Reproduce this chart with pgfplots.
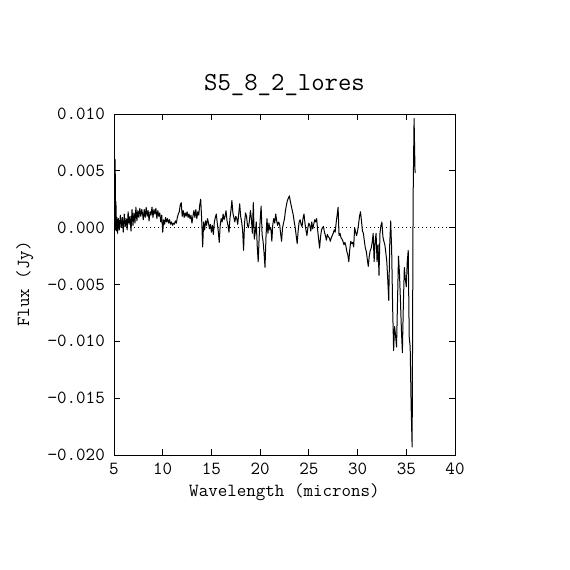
\documentclass[border=0pt]{standalone}
\usepackage{fontspec}
\usepackage{pgfplots}
\usepackage{pgfplotstable}
\pgfplotsset{compat=1.18}
\pgfplotstableread{
w f
5.04 1.0
5.12 6.0
5.16 -0.2
5.20 2.3
5.24 -0.3
5.30 0.9
5.37 -0.5
5.45 0.8
5.55 -0.2
5.65 1.1
5.75 0.0
5.85 0.9
5.95 -0.4
6.05 1.2
6.15 0.1
6.25 0.8
6.35 -0.2
6.45 1.4
6.55 0.3
6.65 1.0
6.75 -0.3
6.85 1.6
6.95 0.2
7.05 1.3
7.15 0.4
7.25 1.8
7.35 0.6
7.45 1.5
7.55 0.9
7.65 1.7
7.75 1.0
7.85 1.6
7.95 1.1
8.0 0.7
8.1 1.6
8.2 0.9
8.3 1.8
8.4 1.0
8.5 1.5
8.6 0.6
8.7 1.4
8.8 1.1
8.9 1.8
9.0 0.9
9.1 1.6
9.2 1.2
9.3 1.7
9.4 0.8
9.5 1.5
9.6 1.0
9.7 1.3
9.8 0.5
9.9 1.1
10.0 -0.4
10.1 0.7
10.2 0.3
10.3 0.9
10.4 0.5
10.5 0.8
10.6 0.4
10.7 0.7
10.8 0.3
10.9 0.5
11.0 0.2
11.1 0.4
11.2 0.3
11.3 0.6
11.4 0.4
11.5 0.9
11.6 1.2
11.7 1.4
11.8 2.0
11.9 2.2
12.0 1.0
12.1 1.5
12.2 0.9
12.3 1.3
12.4 1.0
12.5 1.4
12.6 0.9
12.7 1.2
12.8 0.8
12.9 1.1
13.0 0.4
13.1 1.0
13.2 1.5
13.3 0.9
13.4 1.6
13.5 0.8
13.6 1.4
13.7 1.1
13.8 2.0
13.9 2.5
14.0 0.7
14.1 -1.7
14.2 0.5
14.3 -0.2
14.4 0.6
14.5 0.2
14.6 0.8
14.7 0.4
14.8 -0.1
14.9 0.3
15.0 -0.4
15.1 0.2
15.2 -0.6
15.3 0.5
15.4 0.9
15.5 1.2
15.6 0.4
15.7 -0.3
15.8 -1.3
15.9 0.2
16.0 0.8
16.1 0.5
16.2 1.2
16.3 0.7
16.4 1.0
16.5 1.5
16.6 0.6
16.7 0.2
16.8 -0.4
16.9 0.8
17.0 1.5
17.1 2.4
17.2 1.3
17.3 0.9
17.4 0.5
17.5 1.0
17.6 0.8
17.7 0.3
17.8 1.2
17.9 2.1
18.0 1.0
18.1 0.5
18.2 -0.2
18.3 -2.0
18.4 0.4
18.5 1.3
18.6 1.0
18.7 0.2
18.8 0.0
18.9 0.6
19.0 1.5
19.1 0.8
19.2 -0.5
19.3 2.2
19.4 -1.0
19.5 -0.4
19.6 0.5
19.7 -1.6
19.8 -3.0
19.9 -0.8
20.0 0.6
20.1 1.9
20.2 -0.6
20.3 -1.2
20.4 -2.2
20.5 -3.5
20.6 -0.8
20.7 0.8
20.8 -0.5
20.9 0.4
21.0 -0.2
21.1 0.0
21.2 -1.2
21.3 0.3
21.4 0.8
21.5 0.4
21.6 1.2
21.7 0.6
21.8 0.2
21.9 0.5
22.0 0.3
22.1 -0.5
22.2 -1.2
22.3 0.0
22.4 0.4
22.5 0.8
22.6 1.5
22.7 2.0
22.8 2.4
22.9 2.6
23.0 2.8
23.1 2.3
23.2 1.9
23.3 1.5
23.4 1.1
23.5 0.5
23.6 0.0
23.7 -0.7
23.8 -1.4
23.9 -0.3
24.0 0.5
24.1 0.7
24.2 0.3
24.3 0.1
24.4 0.8
24.5 1.2
24.6 0.4
24.7 -0.2
24.8 -0.7
24.9 0.0
25.0 0.4
25.1 0.2
25.2 -0.3
25.3 0.5
25.4 -0.1
25.5 0.3
25.6 0.7
25.7 0.5
25.8 0.8
25.9 -0.2
26.0 -1.0
26.1 -1.8
26.2 -0.8
26.3 -0.2
26.4 0.0
26.5 0.1
26.6 -0.4
26.7 -0.7
26.8 -1.1
26.9 -0.6
27.0 -0.8
27.1 -0.9
27.2 -1.2
27.3 -0.9
27.4 -0.7
27.5 -0.5
27.6 -0.2
27.7 -0.4
27.8 0.4
27.9 1.1
28.0 1.8
28.1 -0.7
28.2 -0.5
28.3 -0.9
28.4 -1.0
28.5 -1.2
28.6 -1.5
28.7 -1.3
28.8 -1.6
28.9 -2.1
29.0 -2.4
29.1 -3.0
29.2 -1.9
29.3 -1.2
29.4 -1.4
29.5 -1.3
29.6 -1.7
29.7 0.0
29.8 -0.4
29.9 -0.7
30.0 -0.3
30.1 0.3
30.2 1.0
30.3 1.4
30.4 0.6
30.5 -0.3
30.6 -0.5
30.7 -1.2
30.8 -1.8
30.9 -2.1
31.0 -2.8
31.1 -3.4
31.2 -2.5
31.3 -2.0
31.4 -1.8
31.5 -1.3
31.6 -0.5
31.7 -3.0
31.8 -1.2
31.9 -0.5
32.0 -3.0
32.1 -1.5
32.2 -4.2
32.3 -0.5
32.4 0.2
32.5 0.5
32.6 -0.8
32.7 -1.2
32.8 -1.5
32.9 -2.2
33.0 -3.0
33.1 -4.6
33.2 -6.4
33.3 -1.5
33.4 0.6
33.5 -2.0
33.6 -7.0
33.7 -10.8
33.8 -8.7
33.9 -9.5
34.0 -10.5
34.1 -6.5
34.2 -2.5
34.3 -4.0
34.4 -6.4
34.5 -9.0
34.6 -11.0
34.7 -6.7
34.8 -3.5
34.9 -4.5
35.0 -5.2
35.1 -3.0
35.2 -2.0
35.3 -9.6
35.4 -10.5
35.5 -15.8
35.6 -19.3
35.7 2.5
35.8 9.6
35.9 4.8
}\spec
\begin{document}
\begin{tikzpicture}
\useasboundingbox[fill=white] (0,0) rectangle (570pt,570pt);
\begin{axis}[
  at={(114pt,115pt)}, anchor=south west,
  width=341pt, height=341pt, scale only axis,
  xmin=5, xmax=40, ymin=-20, ymax=10,
  xtick={5,10,15,20,25,30,35,40},
  xticklabels={5,10,15,20,25,30,35,40},
  ytick={-20,-15,-10,-5,0,5,10},
  yticklabels={−0.020,−0.015,−0.010,−0.005,0.000,0.005,0.010},
  tick align=inside,
  major tick length=6pt,
  minor tick num=0,
  axis line style={line width=0.9pt},
  every tick/.style={line width=0.9pt, black},
  ticklabel style={font=\ttfamily\fontsize{18.5}{18.5}\selectfont},
  xticklabel style={anchor=north, inner sep=0pt, yshift=-8pt},
  yticklabel style={anchor=east, inner sep=0pt, xshift=-9pt},
]
\addplot[black, line width=0.5pt, dash pattern=on 0.8pt off 3.2pt] coordinates {(5,0) (40,0)};
\addplot[black, line width=1pt, no marks, line join=round] table[x=w, y=f] {\spec};
\end{axis}
\node[anchor=base, font=\ttfamily\fontsize{26}{26}\selectfont] at (284.5pt,479pt) {S5\_8\_2\_lores};
\node[anchor=base, font=\ttfamily\fontsize{18.5}{18.5}\selectfont] at (284.5pt,73pt) {Wavelength (microns)};
\node[anchor=base, rotate=90, font=\ttfamily\fontsize{18.5}{18.5}\selectfont] at (29pt,286pt) {Flux (Jy)};
\end{tikzpicture}
\end{document}
